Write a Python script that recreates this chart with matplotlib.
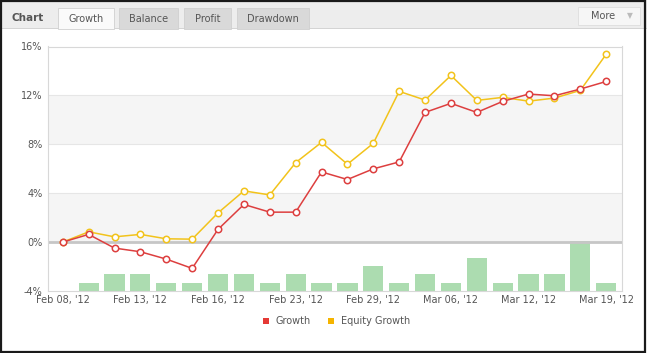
import matplotlib
matplotlib.use("Agg")
import matplotlib.pyplot as plt
from matplotlib.patches import Rectangle
import numpy as np

# ---- data ----
x_labels = ["Feb 08, '12", "Feb 13, '12", "Feb 16, '12", "Feb 23, '12",
            "Feb 29, '12", "Mar 06, '12", "Mar 12, '12", "Mar 19, '12"]
growth = [0.0, 0.63, -0.49, -0.79, -1.39, -2.15, 1.04, 3.08, 2.45, 2.45, 5.74,
          5.12, 5.99, 6.56, 10.61, 11.35, 10.61, 11.51, 12.11, 11.97, 12.52, 13.14]
equity = [0.0, 0.84, 0.43, 0.63, 0.27, 0.24, 2.39, 4.19, 3.86, 6.50, 8.16,
          6.37, 8.08, 12.33, 11.62, 13.63, 11.59, 11.84, 11.53, 11.78, 12.41, 15.37]
trades = [1, 2, 2, 1, 1, 2, 2, 1, 2, 1, 1, 3, 1, 2, 1, 4, 1, 2, 2, 6, 1]
y_ticks = [-4, 0, 4, 8, 12, 16]

W, H = 647, 353
fig = plt.figure(figsize=(W / 100, H / 100), dpi=100)
fig.patch.set_facecolor("white")

def px(x0, y0, w, h):
    return [x0 / W, 1 - (y0 + h) / H, w / W, h / H]

# ---- header ----
fig.patches.append(Rectangle((0, 1 - 28 / H), 1, 28 / H, transform=fig.transFigure,
                             facecolor="#ededed", edgecolor="none", zorder=0))
fig.patches.append(Rectangle((0, 1 - 28.5 / H), 1, 0.5 / H, transform=fig.transFigure,
                             facecolor="#d4d4d4", edgecolor="none", zorder=1))
fig.text(12 / W, 1 - 18 / H, "Chart", fontsize=7.5, fontweight="bold", color="#555555",
         va="center", ha="left")
tabs = [("Growth", 58, 56, True), ("Balance", 119, 59, False),
        ("Profit", 184, 47, False), ("Drawdown", 237, 72, False)]
for name, x0, w, active in tabs:
    fc = "#fafafa" if active else "#d9d9d9"
    fig.patches.append(Rectangle((x0 / W, 1 - 29 / H), w / W, 21 / H,
                                 transform=fig.transFigure, facecolor=fc,
                                 edgecolor="#d0d0d0", lw=0.6, zorder=2))
    fig.text((x0 + w / 2) / W, 1 - 18.5 / H, name, fontsize=7, color="#555555",
             ha="center", va="center", zorder=3)
fig.patches.append(Rectangle((578 / W, 1 - 25 / H), 62 / W, 18 / H,
                             transform=fig.transFigure, facecolor="#f6f6f6",
                             edgecolor="#dddddd", lw=0.6, zorder=2))
fig.text(603 / W, 1 - 16 / H, "More", fontsize=7, color="#555555", ha="center",
         va="center", zorder=3)
fig.text(630 / W, 1 - 16 / H, "\u25BC", fontsize=5.5, color="#bbbbbb", ha="center",
         va="center", zorder=3)

# ---- axes ----
left, right, top, bottom = 48, 622, 46.5, 291
ax2 = fig.add_axes(px(left, top, right - left, bottom - top))
ax = fig.add_axes(px(left, top, right - left, bottom - top))
ax.set_zorder(ax2.get_zorder() + 1)
ax.patch.set_visible(False)

n = len(growth)
xs = np.arange(n)
xlim = (-0.57, n - 1 + 0.61)

# bands on ax2 (axes coords)
for lo, hi in [(0, 4), (8, 12)]:
    ax2.add_patch(Rectangle((0, (lo + 4) / 20), 1, (hi - lo) / 20, transform=ax2.transAxes,
                            facecolor="#f5f5f5", edgecolor="none", zorder=0))
ax2.bar(xs[1:], trades, width=0.78, color="#acdcb0", zorder=2)
ax2.set_ylim(0, 29.5)
ax2.set_xlim(*xlim)
ax2.set_xticks([])
ax2.set_yticks([])
for s in ax2.spines.values():
    s.set_visible(False)

for v in [4, 8, 12, 16]:
    ax.axhline(v, color="#e6e6e6", lw=0.8, zorder=1)
ax.axhline(0, color="#c6c6c6", lw=2, zorder=2)

ax.plot(xs, equity, color="#f2c31b", lw=1.1, marker="o", ms=4.6, mfc="white",
        mec="#f2c31b", mew=1.1, zorder=4)
ax.plot(xs, growth, color="#dd3f3f", lw=1.1, marker="o", ms=4.6, mfc="white",
        mec="#dd3f3f", mew=1.1, zorder=5)

ax.set_ylim(-4, 16)
ax.set_xlim(*xlim)
ax.set_yticks(y_ticks)
ax.set_yticklabels([f"{v}%" for v in y_ticks])
ax.set_xticks(xs[::3])
ax.set_xticklabels(x_labels)
ax.tick_params(axis="both", length=0, labelsize=7, colors="#555555", pad=3)
ax.tick_params(axis="y", pad=4)
for s in ax.spines.values():
    s.set_color("#d8d8d8")
    s.set_linewidth(0.8)

# ---- legend ----
fig.patches.append(Rectangle((263 / W, 1 - 324 / H), 6 / W, 6 / H, transform=fig.transFigure,
                             facecolor="#e53935", edgecolor="none"))
fig.text(276 / W, 1 - 321 / H, "Growth", fontsize=7, color="#555555", va="center")
fig.patches.append(Rectangle((328 / W, 1 - 324 / H), 6 / W, 6 / H, transform=fig.transFigure,
                             facecolor="#f5b400", edgecolor="none"))
fig.text(341 / W, 1 - 321 / H, "Equity Growth", fontsize=7, color="#555555", va="center")

# ---- outer border ----
fig.patches.append(Rectangle((0.5 / W, 1.5 / H), (W - 3) / W, (H - 2.5) / H,
                             transform=fig.transFigure, facecolor="none",
                             edgecolor="#1a1a1a", lw=1.6, zorder=10))

fig.savefig("out.png", dpi=100)
